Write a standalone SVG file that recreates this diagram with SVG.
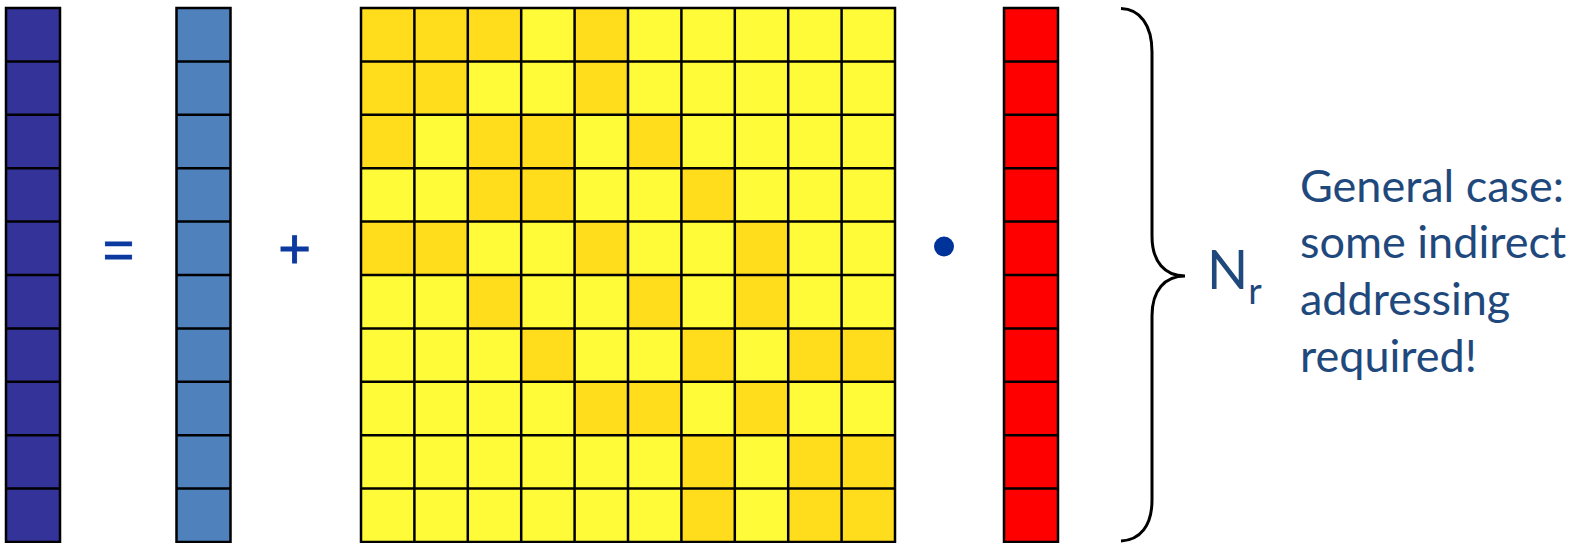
<svg xmlns="http://www.w3.org/2000/svg" width="1579" height="543" viewBox="0 0 1579 543">
<style>
.grid{fill:none;stroke:#000;stroke-width:2.5}
.out{stroke:#000;stroke-width:2.5}
.vy{fill:#333399}
.vb{fill:#4F81BD}
.vx{fill:#FF0000}
.ly{fill:#FFFB38}
.dk{fill:#FFDC1C}
.op{font-family:"Liberation Sans",Arial,sans-serif;fill:#0D3AA0;stroke:#0D3AA0;stroke-width:0.9;text-anchor:middle}
.txt{font-family:Lato,"Open Sans",sans-serif;fill:#1F497D}
</style>
<rect width="1579" height="543" fill="#fff"/>
<g id="vector-y">
<rect class="vy out" x="6" y="8" width="54" height="534"/>
<path class="grid" d="M6,61.4H60M6,114.8H60M6,168.2H60M6,221.6H60M6,275H60M6,328.4H60M6,381.8H60M6,435.2H60M6,488.6H60"/>
</g>
<g id="vector-b">
<rect class="vb out" x="176.5" y="8" width="54" height="534"/>
<path class="grid" d="M176.5,61.4H230.5M176.5,114.8H230.5M176.5,168.2H230.5M176.5,221.6H230.5M176.5,275H230.5M176.5,328.4H230.5M176.5,381.8H230.5M176.5,435.2H230.5M176.5,488.6H230.5"/>
</g>
<g id="matrix-A">
<rect class="ly" x="361" y="8" width="534" height="534"/>
<g class="dk">
<rect x="361" y="8" width="53.4" height="53.4"/><rect x="414.4" y="8" width="53.4" height="53.4"/><rect x="467.8" y="8" width="53.4" height="53.4"/><rect x="574.6" y="8" width="53.4" height="53.4"/>
<rect x="361" y="61.4" width="53.4" height="53.4"/><rect x="414.4" y="61.4" width="53.4" height="53.4"/><rect x="574.6" y="61.4" width="53.4" height="53.4"/>
<rect x="361" y="114.8" width="53.4" height="53.4"/><rect x="467.8" y="114.8" width="53.4" height="53.4"/><rect x="521.2" y="114.8" width="53.4" height="53.4"/><rect x="628" y="114.8" width="53.4" height="53.4"/>
<rect x="467.8" y="168.2" width="53.4" height="53.4"/><rect x="521.2" y="168.2" width="53.4" height="53.4"/><rect x="681.4" y="168.2" width="53.4" height="53.4"/>
<rect x="361" y="221.6" width="53.4" height="53.4"/><rect x="414.4" y="221.6" width="53.4" height="53.4"/><rect x="574.6" y="221.6" width="53.4" height="53.4"/><rect x="734.8" y="221.6" width="53.4" height="53.4"/>
<rect x="467.8" y="275" width="53.4" height="53.4"/><rect x="628" y="275" width="53.4" height="53.4"/><rect x="734.8" y="275" width="53.4" height="53.4"/>
<rect x="521.2" y="328.4" width="53.4" height="53.4"/><rect x="681.4" y="328.4" width="53.4" height="53.4"/><rect x="788.2" y="328.4" width="53.4" height="53.4"/><rect x="841.6" y="328.4" width="53.4" height="53.4"/>
<rect x="574.6" y="381.8" width="53.4" height="53.4"/><rect x="628" y="381.8" width="53.4" height="53.4"/><rect x="734.8" y="381.8" width="53.4" height="53.4"/>
<rect x="681.4" y="435.2" width="53.4" height="53.4"/><rect x="788.2" y="435.2" width="53.4" height="53.4"/><rect x="841.6" y="435.2" width="53.4" height="53.4"/>
<rect x="681.4" y="488.6" width="53.4" height="53.4"/><rect x="788.2" y="488.6" width="53.4" height="53.4"/><rect x="841.6" y="488.6" width="53.4" height="53.4"/>
</g>
<rect class="grid" x="361" y="8" width="534" height="534"/>
<path class="grid" d="M414.4,8V542M467.8,8V542M521.2,8V542M574.6,8V542M628,8V542M681.4,8V542M734.8,8V542M788.2,8V542M841.6,8V542M361,61.4H895M361,114.8H895M361,168.2H895M361,221.6H895M361,275H895M361,328.4H895M361,381.8H895M361,435.2H895M361,488.6H895"/>
</g>
<g id="vector-x">
<rect class="vx out" x="1004" y="8" width="54" height="534"/>
<path class="grid" d="M1004,61.4H1058M1004,114.8H1058M1004,168.2H1058M1004,221.6H1058M1004,275H1058M1004,328.4H1058M1004,381.8H1058M1004,435.2H1058M1004,488.6H1058"/>
</g>
<g id="operators">
<text class="op" x="118.5" y="268" font-size="54">=</text>
<text class="op" x="294.5" y="268" font-size="56">+</text>
<circle cx="944" cy="246.5" r="10" fill="#00339A"/>
</g>
<g id="brace">
<path fill="none" stroke="#000" stroke-width="3" d="M1121,8.5C1140,9 1152,25 1152,52L1152,236C1152,262 1165,276 1185,276C1165,276 1152,290 1152,316L1152,500C1152,526 1140,540 1121,541"/>
</g>
<g id="label-Nr">
<text class="txt" x="1207" y="289" font-size="54">N<tspan dy="15" font-size="37">r</tspan></text>
</g>
<g id="note">
<text class="txt" font-size="45"><tspan x="1300" y="201.7">General case:</tspan><tspan x="1300" y="258.3">some indirect</tspan><tspan x="1300" y="315">addressing</tspan><tspan x="1300" y="371.7">required!</tspan></text>
</g>
</svg>
